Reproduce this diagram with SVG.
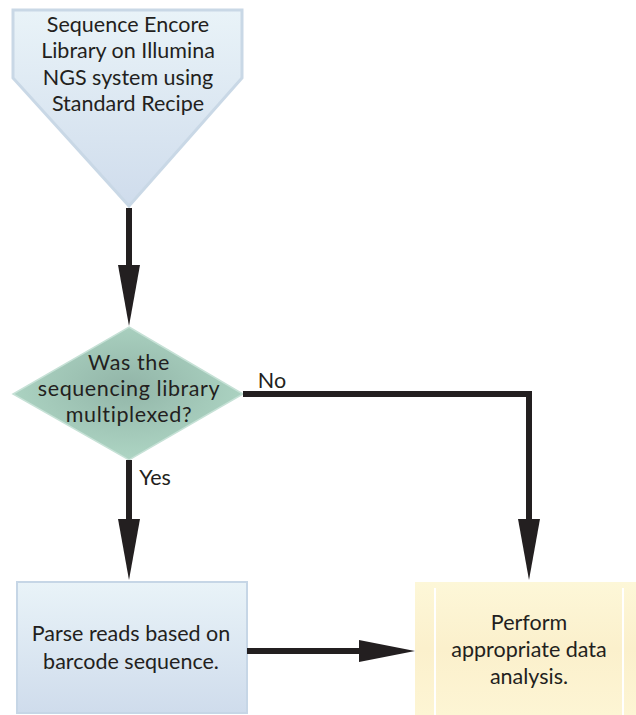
<svg xmlns="http://www.w3.org/2000/svg" width="636" height="715" viewBox="0 0 636 715">
<style>
.t{font-family:Lato,"Open Sans","Liberation Sans",sans-serif;font-size:21.5px;fill:#231f20;text-anchor:middle}
.d{letter-spacing:0.6px}
.c{stroke:#231f20;stroke-width:6;fill:none}
.h{fill:#231f20}
</style>
<defs>
<linearGradient id="gb" x1="0" y1="0" x2="0" y2="1">
<stop offset="0" stop-color="#e9f3f8"/>
<stop offset="1" stop-color="#cfdcec"/>
</linearGradient>
<radialGradient id="gg" cx="0.5" cy="0.45" r="0.6">
<stop offset="0" stop-color="#92b5a8"/>
<stop offset="1" stop-color="#b0d8c6"/>
</radialGradient>
<linearGradient id="gy" x1="0" y1="0" x2="0" y2="1">
<stop offset="0" stop-color="#fdf7d8"/>
<stop offset="0.5" stop-color="#fbf0cc"/>
<stop offset="1" stop-color="#fdf5d4"/>
</linearGradient>
</defs>
<g id="start">
<polygon points="13,10 242,10 242,78 129,206 13,78" fill="url(#gb)" stroke="#c9d8e6" stroke-width="3"/>
<text class="t" x="128" y="32">Sequence Encore</text>
<text class="t" x="128" y="58">Library on Illumina</text>
<text class="t" x="128" y="85">NGS system using</text>
<text class="t" x="128" y="111">Standard Recipe</text>
</g>
<g id="decision">
<polygon points="129,327 243,394 129,460 13,394" fill="url(#gg)" stroke="#c6e1d6" stroke-width="1.5"/>
<text class="t d" x="129" y="370">Was the</text>
<text class="t d" x="129" y="396">sequencing library</text>
<text class="t d" x="129" y="422">multiplexed?</text>
</g>
<g id="parse">
<rect x="17" y="582" width="230" height="131" fill="url(#gb)" stroke="#c6d6e6" stroke-width="2"/>
<text class="t" x="131" y="641">Parse reads based on</text>
<text class="t" x="131" y="669">barcode sequence.</text>
</g>
<g id="analysis">
<rect x="415" y="582" width="221" height="133" fill="url(#gy)"/>
<line x1="435" y1="588" x2="435" y2="715" stroke="#ffffff" stroke-width="2"/>
<line x1="623" y1="588" x2="623" y2="715" stroke="#ffffff" stroke-width="2"/>
<text class="t" x="529" y="630">Perform</text>
<text class="t" x="529" y="657">appropriate data</text>
<text class="t" x="529" y="684">analysis.</text>
</g>
<g id="connectors">
<line class="c" x1="129" y1="208" x2="129" y2="268"/>
<polygon class="h" points="118,265 140,265 129,326"/>
<line class="c" x1="129" y1="460" x2="129" y2="522"/>
<polygon class="h" points="118,519 140,519 129,580"/>
<text class="t" x="155" y="485">Yes</text>
<polyline class="c" points="243,394 529,394 529,522"/>
<polygon class="h" points="518,519 540,519 529,580"/>
<text class="t" x="272" y="388">No</text>
<line class="c" x1="247" y1="651" x2="362" y2="651"/>
<polygon class="h" points="359,640 359,662 415,651"/>
</g>
</svg>
